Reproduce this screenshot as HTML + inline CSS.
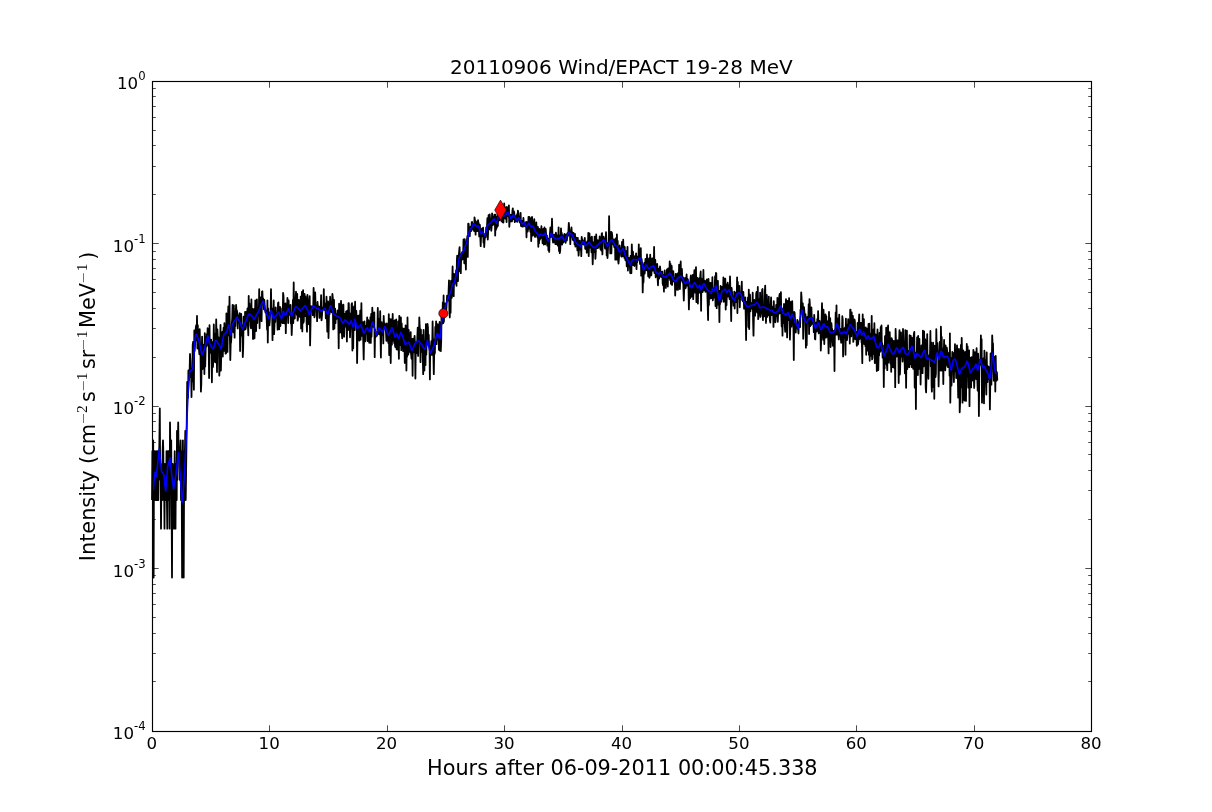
<!DOCTYPE html>
<html><head><meta charset="utf-8"><title>20110906 Wind/EPACT 19-28 MeV</title>
<style>html,body{margin:0;padding:0;background:#fff}body{width:1212px;height:812px;overflow:hidden}svg{display:block}</style>
</head><body>
<svg width="1212" height="812" viewBox="0 0 1212 812">
<rect width="1212" height="812" fill="#fff"/>
<g fill="none" stroke-linejoin="round" stroke-linecap="butt">
<path d="M152.0 500.1L152.4 451.2L152.8 500.1L153.2 440.3L153.6 577.6L154.0 451.2L154.3 451.2L154.7 479.8L155.1 451.2L155.5 500.1L155.9 500.1L156.3 500.1L156.7 451.2L157.1 500.1L157.5 451.2L157.9 464.0L158.3 500.1L158.7 451.2L159.0 464.0L159.4 440.3L159.8 408.4L160.2 479.8L160.6 464.0L161.0 528.7L161.4 479.8L161.8 500.1L162.2 500.1L162.6 451.2L163.0 440.3L163.3 451.2L163.7 500.1L164.1 479.8L164.5 528.7L164.9 464.0L165.3 500.1L165.7 479.8L166.1 500.1L166.5 451.2L166.9 500.1L167.3 528.7L167.7 451.2L168.0 500.1L168.4 451.2L168.8 451.2L169.2 451.2L169.6 528.7L170.0 422.5L170.4 451.2L170.8 479.8L171.2 440.3L171.6 500.1L172.0 577.6L172.3 479.8L172.7 464.0L173.1 479.8L173.5 500.1L173.9 528.7L174.3 500.1L174.7 451.2L175.1 479.8L175.5 528.7L175.9 464.0L176.3 464.0L176.7 500.1L177.0 430.8L177.4 479.8L177.8 451.2L178.2 422.5L178.6 451.2L179.0 451.2L179.4 451.2L179.8 479.8L180.2 451.2L180.6 440.3L181.0 500.1L181.4 451.2L181.7 479.8L182.1 577.6L182.5 464.0L182.9 440.3L183.3 500.1L183.7 577.6L184.1 479.8L184.5 451.2L184.9 451.2L185.3 430.8L185.7 500.1L186.0 479.8L186.4 448.6L186.8 417.6L187.2 382.0L187.6 394.1L188.0 397.8L188.4 370.4L188.8 380.7L189.2 375.5L189.6 372.1L190.0 354.0L190.4 361.5L190.7 377.3L191.1 369.4L191.5 397.0L191.9 368.3L192.3 381.4L192.7 345.0L193.1 341.8L193.5 374.1L193.9 389.7L194.3 330.4L194.7 351.0L195.0 345.5L195.4 336.4L195.8 327.9L196.2 325.1L196.6 340.4L197.0 316.0L197.4 348.6L197.8 325.1L198.2 344.9L198.6 336.5L199.0 349.9L199.4 354.4L199.7 329.2L200.1 346.1L200.5 351.7L200.9 391.6L201.3 384.2L201.7 351.9L202.1 336.6L202.5 369.1L202.9 352.7L203.3 350.8L203.7 353.9L204.0 344.3L204.4 374.0L204.8 333.1L205.2 366.6L205.6 351.6L206.0 336.9L206.4 346.4L206.8 334.1L207.2 344.9L207.6 328.2L208.0 328.8L208.4 343.6L208.7 347.2L209.1 378.0L209.5 325.2L209.9 352.9L210.3 346.2L210.7 345.1L211.1 339.6L211.5 347.1L211.9 382.3L212.3 342.1L212.7 351.9L213.0 366.9L213.4 355.4L213.8 324.4L214.2 348.2L214.6 361.6L215.0 334.2L215.4 362.3L215.8 348.1L216.2 319.4L216.6 339.4L217.0 372.0L217.4 329.5L217.7 336.0L218.1 349.7L218.5 337.2L218.9 346.8L219.3 375.6L219.7 364.0L220.1 352.1L220.5 324.8L220.9 370.5L221.3 352.5L221.7 354.8L222.1 334.5L222.4 331.8L222.8 356.6L223.2 335.0L223.6 327.7L224.0 350.9L224.4 323.2L224.8 340.4L225.2 328.3L225.6 353.7L226.0 353.4L226.4 313.4L226.7 332.2L227.1 329.0L227.5 351.9L227.9 320.3L228.3 306.5L228.7 332.2L229.1 335.3L229.5 296.6L229.9 338.0L230.3 360.0L230.7 343.6L231.1 342.2L231.4 336.8L231.8 323.8L232.2 319.2L232.6 304.8L233.0 331.3L233.4 332.2L233.8 305.3L234.2 316.0L234.6 337.7L235.0 313.4L235.4 326.0L235.7 314.0L236.1 304.8L236.5 311.7L236.9 310.3L237.3 313.1L237.7 328.4L238.1 315.2L238.5 321.9L238.9 322.6L239.3 322.7L239.7 313.1L240.1 351.0L240.4 329.9L240.8 322.2L241.2 313.8L241.6 335.5L242.0 333.6L242.4 325.7L242.8 357.0L243.2 347.2L243.6 316.7L244.0 317.7L244.4 329.8L244.7 329.2L245.1 311.8L245.5 329.3L245.9 327.6L246.3 321.1L246.7 311.3L247.1 320.3L247.5 308.3L247.9 325.1L248.3 335.3L248.7 296.0L249.1 320.9L249.4 303.3L249.8 312.6L250.2 316.9L250.6 326.1L251.0 328.4L251.4 299.3L251.8 323.8L252.2 308.6L252.6 317.6L253.0 339.1L253.4 309.8L253.7 318.7L254.1 308.9L254.5 338.3L254.9 322.4L255.3 300.3L255.7 321.5L256.1 331.1L256.5 313.6L256.9 299.4L257.3 323.0L257.7 314.4L258.1 307.9L258.4 315.5L258.8 314.6L259.2 289.2L259.6 328.3L260.0 301.4L260.4 297.3L260.8 312.2L261.2 310.9L261.6 321.2L262.0 291.7L262.4 291.3L262.7 300.5L263.1 298.3L263.5 299.9L263.9 309.3L264.3 300.0L264.7 305.1L265.1 310.3L265.5 312.5L265.9 310.3L266.3 313.5L266.7 320.0L267.1 329.8L267.4 300.3L267.8 342.6L268.2 308.5L268.6 317.7L269.0 317.5L269.4 325.4L269.8 320.6L270.2 312.3L270.6 312.7L271.0 289.1L271.4 313.1L271.8 312.6L272.1 308.5L272.5 340.2L272.9 321.9L273.3 319.6L273.7 300.4L274.1 334.2L274.5 324.9L274.9 312.5L275.3 321.9L275.7 307.3L276.1 314.7L276.4 315.2L276.8 313.3L277.2 314.9L277.6 329.7L278.0 303.1L278.4 302.4L278.8 316.6L279.2 329.3L279.6 308.6L280.0 306.9L280.4 326.0L280.8 308.2L281.1 318.0L281.5 322.7L281.9 318.9L282.3 314.6L282.7 323.2L283.1 292.8L283.5 295.8L283.9 315.3L284.3 323.3L284.7 314.2L285.1 308.2L285.4 303.5L285.8 333.2L286.2 315.8L286.6 311.8L287.0 312.7L287.4 298.0L287.8 309.8L288.2 323.0L288.6 300.4L289.0 313.4L289.4 313.7L289.8 314.9L290.1 308.7L290.5 305.0L290.9 323.4L291.3 317.4L291.7 335.0L292.1 323.4L292.5 317.5L292.9 299.9L293.3 323.0L293.7 282.4L294.1 312.8L294.4 314.1L294.8 318.6L295.2 299.2L295.6 299.5L296.0 291.7L296.4 303.3L296.8 314.8L297.2 294.0L297.6 320.7L298.0 318.7L298.4 302.7L298.8 299.9L299.1 312.6L299.5 310.5L299.9 316.9L300.3 310.5L300.7 296.6L301.1 328.4L301.5 306.1L301.9 291.9L302.3 331.4L302.7 302.3L303.1 290.2L303.4 322.9L303.8 321.0L304.2 302.4L304.6 294.0L305.0 316.0L305.4 296.3L305.8 303.9L306.2 297.8L306.6 322.1L307.0 331.7L307.4 294.9L307.8 300.0L308.1 316.2L308.5 322.6L308.9 324.4L309.3 312.9L309.7 296.1L310.1 345.4L310.5 324.8L310.9 306.2L311.3 309.8L311.7 307.5L312.1 306.5L312.5 307.4L312.8 315.2L313.2 309.6L313.6 288.0L314.0 303.4L314.4 317.3L314.8 315.5L315.2 292.5L315.6 307.7L316.0 305.7L316.4 305.8L316.8 311.4L317.1 321.2L317.5 301.9L317.9 307.0L318.3 309.6L318.7 306.3L319.1 306.7L319.5 317.9L319.9 308.7L320.3 316.4L320.7 310.1L321.1 295.2L321.5 320.3L321.8 318.0L322.2 312.6L322.6 307.5L323.0 308.7L323.4 309.1L323.8 289.1L324.2 308.5L324.6 309.5L325.0 310.3L325.4 303.6L325.8 318.3L326.1 310.3L326.5 296.7L326.9 316.3L327.3 331.7L327.7 321.2L328.1 301.5L328.5 338.0L328.9 318.5L329.3 302.6L329.7 313.9L330.1 296.7L330.5 310.5L330.8 307.6L331.2 304.2L331.6 312.3L332.0 302.5L332.4 293.9L332.8 297.9L333.2 329.4L333.6 319.6L334.0 299.8L334.4 328.7L334.8 309.6L335.1 308.5L335.5 323.2L335.9 314.0L336.3 319.2L336.7 316.4L337.1 318.3L337.5 310.3L337.9 311.8L338.3 320.6L338.7 348.3L339.1 303.7L339.5 305.1L339.8 322.7L340.2 332.5L340.6 325.4L341.0 300.8L341.4 314.3L341.8 332.3L342.2 338.3L342.6 322.3L343.0 304.7L343.4 304.7L343.8 325.7L344.1 336.7L344.5 319.1L344.9 313.8L345.3 316.2L345.7 326.5L346.1 311.4L346.5 322.8L346.9 341.6L347.3 310.7L347.7 324.1L348.1 330.1L348.5 303.2L348.8 303.2L349.2 318.2L349.6 313.2L350.0 337.3L350.4 327.8L350.8 316.8L351.2 324.0L351.6 304.3L352.0 303.2L352.4 350.5L352.8 307.0L353.2 348.2L353.5 324.5L353.9 320.6L354.3 306.1L354.7 330.1L355.1 301.7L355.5 322.3L355.9 322.8L356.3 311.0L356.7 322.1L357.1 363.1L357.5 338.3L357.8 316.0L358.2 340.1L358.6 319.1L359.0 315.3L359.4 340.6L359.8 333.0L360.2 310.6L360.6 339.7L361.0 325.8L361.4 303.2L361.8 334.1L362.2 335.9L362.5 332.1L362.9 322.2L363.3 344.2L363.7 359.4L364.1 335.7L364.5 321.4L364.9 330.9L365.3 341.4L365.7 329.0L366.1 325.6L366.5 333.5L366.8 326.9L367.2 317.4L367.6 341.0L368.0 329.9L368.4 320.1L368.8 323.0L369.2 342.8L369.6 338.9L370.0 341.3L370.4 317.2L370.8 342.9L371.2 313.9L371.5 336.8L371.9 326.0L372.3 307.6L372.7 317.5L373.1 322.2L373.5 326.8L373.9 324.5L374.3 312.4L374.7 357.2L375.1 329.6L375.5 337.3L375.8 333.9L376.2 332.6L376.6 333.5L377.0 335.8L377.4 330.3L377.8 308.0L378.2 334.0L378.6 322.1L379.0 319.3L379.4 333.0L379.8 334.6L380.2 311.2L380.5 335.4L380.9 357.6L381.3 322.5L381.7 322.1L382.1 334.9L382.5 324.7L382.9 327.8L383.3 343.4L383.7 316.0L384.1 327.3L384.5 328.2L384.8 323.3L385.2 326.1L385.6 329.7L386.0 332.2L386.4 340.8L386.8 323.3L387.2 338.9L387.6 329.9L388.0 340.4L388.4 343.0L388.8 314.2L389.2 355.0L389.5 339.4L389.9 318.8L390.3 336.5L390.7 363.1L391.1 338.3L391.5 319.5L391.9 344.7L392.3 330.2L392.7 314.0L393.1 340.7L393.5 325.6L393.8 332.7L394.2 343.0L394.6 320.3L395.0 345.6L395.4 347.2L395.8 337.1L396.2 319.3L396.6 349.4L397.0 328.1L397.4 339.2L397.8 349.7L398.2 321.3L398.5 340.3L398.9 358.8L399.3 315.8L399.7 333.8L400.1 345.1L400.5 343.6L400.9 317.5L401.3 350.2L401.7 323.4L402.1 343.6L402.5 328.2L402.9 340.1L403.2 351.2L403.6 335.2L404.0 328.6L404.4 340.8L404.8 362.9L405.2 354.0L405.6 325.3L406.0 335.4L406.4 370.5L406.8 339.5L407.2 356.5L407.5 317.5L407.9 347.0L408.3 354.5L408.7 329.8L409.1 339.6L409.5 351.2L409.9 350.2L410.3 352.6L410.7 332.1L411.1 353.8L411.5 358.8L411.9 339.2L412.2 344.5L412.6 375.8L413.0 338.7L413.4 351.6L413.8 352.3L414.2 341.4L414.6 335.9L415.0 343.8L415.4 378.6L415.8 347.0L416.2 342.5L416.5 349.3L416.9 353.1L417.3 337.8L417.7 327.7L418.1 355.9L418.5 333.5L418.9 339.7L419.3 317.3L419.7 326.3L420.1 337.9L420.5 362.2L420.9 329.7L421.2 351.8L421.6 344.3L422.0 341.1L422.4 335.1L422.8 358.3L423.2 374.2L423.6 329.9L424.0 344.2L424.4 370.5L424.8 343.9L425.2 358.8L425.5 365.1L425.9 324.1L426.3 354.7L426.7 342.4L427.1 344.0L427.5 323.9L427.9 327.0L428.3 344.8L428.7 334.7L429.1 345.8L429.5 345.8L429.9 379.4L430.2 346.5L430.6 350.3L431.0 347.0L431.4 341.1L431.8 354.9L432.2 347.3L432.6 321.5L433.0 343.2L433.4 354.4L433.8 374.2L434.2 353.1L434.5 339.3L434.9 353.4L435.3 326.8L435.7 334.1L436.1 321.5L436.5 344.2L436.9 330.4L437.3 329.0L437.7 324.1L438.1 339.7L438.5 331.6L438.9 349.8L439.2 335.0L439.6 322.0L440.0 350.7L440.4 347.7L440.8 351.2L441.2 341.0L441.6 310.3L442.0 323.8L442.4 321.2L442.8 302.4L443.2 323.2L443.6 295.5L443.9 321.8L444.3 303.3L444.7 315.2L445.1 303.5L445.5 304.1L445.9 306.4L446.3 310.1L446.7 303.8L447.1 295.6L447.5 298.2L447.9 299.5L448.2 300.6L448.6 291.1L449.0 280.3L449.4 310.9L449.8 317.4L450.2 286.7L450.6 312.7L451.0 280.8L451.4 284.4L451.8 297.8L452.2 280.4L452.6 266.5L452.9 284.1L453.3 289.9L453.7 296.2L454.1 273.8L454.5 284.0L454.9 279.2L455.3 280.5L455.7 279.0L456.1 270.2L456.5 285.8L456.9 260.6L457.2 255.6L457.6 270.9L458.0 281.1L458.4 263.6L458.8 255.9L459.2 250.9L459.6 247.2L460.0 271.3L460.4 254.9L460.8 273.2L461.2 254.1L461.6 260.2L461.9 252.9L462.3 252.0L462.7 252.1L463.1 259.2L463.5 239.4L463.9 248.0L464.3 263.3L464.7 239.2L465.1 242.2L465.5 257.0L465.9 269.5L466.2 246.5L466.6 244.2L467.0 239.3L467.4 236.0L467.8 256.9L468.2 223.6L468.6 223.6L469.0 228.1L469.4 235.3L469.8 236.2L470.2 227.2L470.6 231.1L470.9 226.3L471.3 231.0L471.7 222.1L472.1 222.0L472.5 226.0L472.9 228.4L473.3 229.8L473.7 223.9L474.1 231.0L474.5 217.3L474.9 219.9L475.2 223.2L475.6 234.6L476.0 221.4L476.4 231.3L476.8 223.6L477.2 230.2L477.6 231.0L478.0 220.2L478.4 222.6L478.8 223.6L479.2 236.4L479.6 228.7L479.9 224.9L480.3 237.2L480.7 246.2L481.1 234.6L481.5 233.3L481.9 228.6L482.3 236.3L482.7 229.8L483.1 227.6L483.5 242.7L483.9 234.9L484.2 247.0L484.6 240.1L485.0 237.0L485.4 233.9L485.8 237.1L486.2 227.3L486.6 229.8L487.0 226.1L487.4 218.1L487.8 239.5L488.2 230.1L488.6 215.1L488.9 229.0L489.3 229.4L489.7 214.3L490.1 219.4L490.5 220.2L490.9 218.9L491.3 230.8L491.7 226.0L492.1 213.4L492.5 218.3L492.9 225.0L493.3 217.3L493.6 219.8L494.0 224.3L494.4 214.7L494.8 216.5L495.2 235.5L495.6 214.6L496.0 229.7L496.4 219.8L496.8 227.7L497.2 216.6L497.6 222.5L497.9 226.0L498.3 209.9L498.7 211.1L499.1 218.6L499.5 220.3L499.9 218.5L500.3 213.8L500.7 208.6L501.1 214.2L501.5 221.3L501.9 211.6L502.3 206.3L502.6 222.2L503.0 214.9L503.4 222.6L503.8 215.1L504.2 203.5L504.6 212.7L505.0 216.2L505.4 218.5L505.8 207.5L506.2 217.2L506.6 222.1L506.9 206.9L507.3 209.8L507.7 213.6L508.1 213.4L508.5 216.6L508.9 205.4L509.3 226.8L509.7 220.7L510.1 215.3L510.5 214.6L510.9 221.3L511.3 218.3L511.6 218.8L512.0 221.4L512.4 210.9L512.8 208.4L513.2 219.0L513.6 219.3L514.0 211.5L514.4 213.9L514.8 222.2L515.2 216.1L515.6 216.2L515.9 218.3L516.3 221.0L516.7 221.5L517.1 214.2L517.5 221.8L517.9 210.6L518.3 212.7L518.7 218.5L519.1 219.6L519.5 220.1L519.9 222.7L520.3 218.0L520.6 212.8L521.0 225.9L521.4 224.7L521.8 226.2L522.2 226.5L522.6 220.7L523.0 226.6L523.4 217.9L523.8 222.5L524.2 223.0L524.6 225.4L524.9 226.3L525.3 223.9L525.7 223.9L526.1 222.0L526.5 237.3L526.9 222.1L527.3 223.0L527.7 231.6L528.1 228.6L528.5 216.8L528.9 222.6L529.3 216.8L529.6 228.5L530.0 228.6L530.4 231.9L530.8 218.2L531.2 241.0L531.6 228.9L532.0 216.9L532.4 221.1L532.8 235.7L533.2 230.2L533.6 221.8L534.0 227.9L534.3 219.2L534.7 235.9L535.1 237.0L535.5 233.7L535.9 233.8L536.3 222.3L536.7 233.3L537.1 236.0L537.5 237.4L537.9 226.8L538.3 246.8L538.6 228.8L539.0 243.3L539.4 228.8L539.8 239.7L540.2 237.9L540.6 238.4L541.0 233.7L541.4 226.2L541.8 233.7L542.2 233.9L542.6 243.2L543.0 235.7L543.3 228.8L543.7 244.5L544.1 232.2L544.5 227.5L544.9 232.4L545.3 244.3L545.7 228.9L546.1 234.3L546.5 239.0L546.9 235.3L547.3 245.6L547.6 241.6L548.0 238.7L548.4 250.3L548.8 239.3L549.2 251.9L549.6 238.6L550.0 232.9L550.4 227.5L550.8 237.0L551.2 234.3L551.6 232.8L552.0 218.7L552.3 230.4L552.7 239.6L553.1 242.7L553.5 235.1L553.9 237.8L554.3 234.7L554.7 242.4L555.1 237.1L555.5 244.1L555.9 232.7L556.3 236.2L556.6 244.0L557.0 238.3L557.4 235.3L557.8 245.7L558.2 241.3L558.6 227.3L559.0 250.9L559.4 235.3L559.8 253.2L560.2 250.5L560.6 241.5L561.0 228.4L561.3 236.4L561.7 232.9L562.1 244.5L562.5 234.8L562.9 238.2L563.3 242.6L563.7 240.5L564.1 240.6L564.5 233.8L564.9 237.3L565.3 241.6L565.6 242.9L566.0 234.9L566.4 234.4L566.8 240.7L567.2 237.9L567.6 232.9L568.0 236.0L568.4 231.2L568.8 222.8L569.2 227.6L569.6 232.4L570.0 235.0L570.3 244.1L570.7 233.1L571.1 233.4L571.5 227.5L571.9 236.6L572.3 232.2L572.7 239.2L573.1 240.1L573.5 232.8L573.9 240.6L574.3 237.7L574.6 244.4L575.0 234.0L575.4 246.5L575.8 243.7L576.2 243.7L576.6 237.7L577.0 243.7L577.4 250.4L577.8 237.9L578.2 245.2L578.6 255.7L579.0 249.1L579.3 241.9L579.7 240.6L580.1 249.6L580.5 247.3L580.9 245.7L581.3 256.2L581.7 236.8L582.1 239.8L582.5 241.3L582.9 240.6L583.3 244.5L583.7 244.1L584.0 243.8L584.4 240.4L584.8 238.0L585.2 248.7L585.6 242.5L586.0 249.1L586.4 243.5L586.8 252.6L587.2 241.5L587.6 244.1L588.0 244.7L588.3 232.8L588.7 256.1L589.1 243.5L589.5 233.3L589.9 247.7L590.3 247.7L590.7 237.6L591.1 245.6L591.5 252.3L591.9 236.7L592.3 250.1L592.7 264.3L593.0 255.9L593.4 242.4L593.8 250.7L594.2 252.2L594.6 236.6L595.0 244.5L595.4 258.8L595.8 251.8L596.2 234.5L596.6 247.5L597.0 248.1L597.3 247.5L597.7 240.1L598.1 248.0L598.5 245.1L598.9 243.1L599.3 243.0L599.7 236.3L600.1 247.6L600.5 249.3L600.9 237.7L601.3 250.5L601.7 233.7L602.0 233.1L602.4 254.4L602.8 237.1L603.2 237.7L603.6 236.7L604.0 239.8L604.4 238.6L604.8 246.7L605.2 248.7L605.6 244.3L606.0 232.2L606.3 241.1L606.7 255.4L607.1 242.9L607.5 258.0L607.9 250.4L608.3 243.3L608.7 243.2L609.1 216.1L609.5 240.2L609.9 239.8L610.3 253.4L610.7 233.4L611.0 231.9L611.4 253.3L611.8 232.4L612.2 235.3L612.6 243.4L613.0 242.0L613.4 244.7L613.8 239.4L614.2 247.0L614.6 243.8L615.0 239.6L615.3 259.7L615.7 238.3L616.1 241.8L616.5 259.5L616.9 234.3L617.3 249.2L617.7 241.0L618.1 260.0L618.5 263.6L618.9 258.7L619.3 253.5L619.7 245.5L620.0 248.4L620.4 253.1L620.8 248.6L621.2 256.1L621.6 256.5L622.0 241.9L622.4 252.3L622.8 256.3L623.2 239.7L623.6 253.2L624.0 246.5L624.4 257.9L624.7 246.8L625.1 257.8L625.5 260.4L625.9 254.7L626.3 251.2L626.7 266.3L627.1 263.2L627.5 246.8L627.9 270.5L628.3 260.6L628.7 264.0L629.0 257.9L629.4 264.7L629.8 263.9L630.2 273.0L630.6 255.9L631.0 273.3L631.4 273.1L631.8 244.3L632.2 256.0L632.6 264.9L633.0 251.7L633.4 265.2L633.7 255.9L634.1 265.1L634.5 266.0L634.9 259.0L635.3 256.1L635.7 258.3L636.1 253.3L636.5 269.1L636.9 258.2L637.3 262.3L637.7 256.5L638.0 258.4L638.4 259.9L638.8 244.3L639.2 259.7L639.6 249.7L640.0 263.9L640.4 254.7L640.8 248.1L641.2 275.7L641.6 258.8L642.0 263.1L642.4 266.7L642.7 292.4L643.1 275.1L643.5 282.4L643.9 264.7L644.3 262.9L644.7 273.6L645.1 267.3L645.5 258.9L645.9 270.2L646.3 266.8L646.7 270.3L647.0 254.5L647.4 268.2L647.8 267.9L648.2 276.3L648.6 269.8L649.0 258.4L649.4 277.8L649.8 276.4L650.2 254.7L650.6 269.2L651.0 271.0L651.4 275.3L651.7 267.6L652.1 258.4L652.5 266.2L652.9 270.6L653.3 258.2L653.7 270.7L654.1 246.9L654.5 273.0L654.9 270.4L655.3 259.9L655.7 277.3L656.0 273.0L656.4 273.5L656.8 275.4L657.2 263.9L657.6 278.2L658.0 285.3L658.4 268.7L658.8 275.1L659.2 278.6L659.6 270.7L660.0 266.5L660.4 270.4L660.7 276.6L661.1 271.7L661.5 277.0L661.9 272.4L662.3 271.6L662.7 283.6L663.1 285.2L663.5 274.9L663.9 291.6L664.3 279.7L664.7 270.5L665.1 285.6L665.4 279.3L665.8 287.9L666.2 278.1L666.6 274.4L667.0 269.4L667.4 270.9L667.8 286.6L668.2 268.3L668.6 278.2L669.0 274.5L669.4 272.4L669.7 261.4L670.1 280.1L670.5 263.8L670.9 283.8L671.3 279.7L671.7 266.0L672.1 285.0L672.5 281.0L672.9 281.6L673.3 271.1L673.7 281.4L674.1 277.7L674.4 280.9L674.8 278.3L675.2 295.6L675.6 273.9L676.0 284.3L676.4 277.9L676.8 289.6L677.2 274.3L677.6 273.4L678.0 289.8L678.4 274.0L678.7 285.6L679.1 264.7L679.5 269.7L679.9 289.0L680.3 277.0L680.7 261.4L681.1 280.6L681.5 278.2L681.9 269.0L682.3 278.7L682.7 282.7L683.1 277.5L683.4 288.2L683.8 300.5L684.2 287.4L684.6 285.9L685.0 278.0L685.4 288.3L685.8 287.5L686.2 280.5L686.6 274.5L687.0 284.5L687.4 285.6L687.7 279.1L688.1 280.2L688.5 289.0L688.9 309.4L689.3 291.0L689.7 288.3L690.1 298.3L690.5 278.9L690.9 275.4L691.3 296.9L691.7 293.3L692.1 281.7L692.4 287.6L692.8 274.8L693.2 299.2L693.6 288.8L694.0 277.9L694.4 270.2L694.8 286.0L695.2 292.6L695.6 280.4L696.0 267.2L696.4 302.0L696.7 283.6L697.1 277.7L697.5 289.6L697.9 303.5L698.3 278.8L698.7 288.3L699.1 278.2L699.5 292.5L699.9 290.9L700.3 275.0L700.7 271.5L701.1 310.8L701.4 278.4L701.8 288.9L702.2 289.6L702.6 292.2L703.0 288.5L703.4 270.0L703.8 290.4L704.2 284.6L704.6 286.5L705.0 280.7L705.4 291.8L705.7 289.8L706.1 285.2L706.5 291.6L706.9 279.3L707.3 292.1L707.7 305.8L708.1 320.0L708.5 278.8L708.9 305.1L709.3 282.5L709.7 295.0L710.1 298.6L710.4 297.4L710.8 282.8L711.2 291.8L711.6 298.1L712.0 290.4L712.4 277.2L712.8 300.4L713.2 296.9L713.6 292.1L714.0 288.1L714.4 297.7L714.8 284.4L715.1 276.1L715.5 306.1L715.9 272.9L716.3 273.3L716.7 308.2L717.1 299.2L717.5 285.3L717.9 280.8L718.3 302.7L718.7 305.1L719.1 301.8L719.4 322.0L719.8 290.6L720.2 303.9L720.6 286.0L721.0 294.4L721.4 301.7L721.8 287.0L722.2 298.8L722.6 290.1L723.0 296.3L723.4 277.3L723.8 301.8L724.1 292.9L724.5 279.1L724.9 288.2L725.3 278.7L725.7 309.6L726.1 284.5L726.5 305.3L726.9 292.4L727.3 285.6L727.7 282.7L728.1 292.6L728.4 296.6L728.8 285.4L729.2 292.4L729.6 299.2L730.0 276.4L730.4 290.6L730.8 302.1L731.2 321.0L731.6 287.8L732.0 291.9L732.4 298.2L732.8 298.0L733.1 298.9L733.5 305.7L733.9 302.5L734.3 291.6L734.7 308.5L735.1 292.4L735.5 295.6L735.9 302.1L736.3 297.2L736.7 299.3L737.1 277.3L737.4 313.1L737.8 281.9L738.2 292.1L738.6 298.6L739.0 288.0L739.4 285.9L739.8 307.3L740.2 293.7L740.6 295.3L741.0 292.9L741.4 292.9L741.8 281.6L742.1 300.1L742.5 298.4L742.9 301.4L743.3 291.8L743.7 297.7L744.1 308.6L744.5 305.5L744.9 307.1L745.3 297.3L745.7 314.8L746.1 340.1L746.4 309.7L746.8 301.9L747.2 311.1L747.6 306.0L748.0 297.3L748.4 327.1L748.8 289.7L749.2 329.1L749.6 300.3L750.0 294.7L750.4 311.3L750.8 307.1L751.1 304.3L751.5 303.1L751.9 308.5L752.3 307.7L752.7 292.7L753.1 321.0L753.5 335.7L753.9 316.3L754.3 299.8L754.7 301.9L755.1 315.7L755.5 305.3L755.8 311.5L756.2 293.7L756.6 291.9L757.0 305.3L757.4 312.6L757.8 286.9L758.2 319.2L758.6 314.9L759.0 299.6L759.4 302.3L759.8 314.6L760.1 292.6L760.5 316.9L760.9 314.3L761.3 312.4L761.7 310.1L762.1 289.9L762.5 289.0L762.9 320.1L763.3 311.1L763.7 306.2L764.1 316.3L764.5 304.6L764.8 292.3L765.2 285.6L765.6 310.2L766.0 322.9L766.4 301.2L766.8 295.0L767.2 316.9L767.6 310.5L768.0 315.4L768.4 313.9L768.8 296.6L769.1 314.1L769.5 304.7L769.9 320.3L770.3 322.7L770.7 306.2L771.1 297.4L771.5 315.2L771.9 313.7L772.3 308.5L772.7 306.7L773.1 309.4L773.5 326.9L773.8 301.2L774.2 317.5L774.6 308.6L775.0 315.2L775.4 322.3L775.8 315.6L776.2 304.8L776.6 312.9L777.0 315.9L777.4 297.9L777.8 321.8L778.1 314.1L778.5 314.6L778.9 305.5L779.3 296.0L779.7 293.9L780.1 313.2L780.5 306.3L780.9 292.1L781.3 315.2L781.7 326.4L782.1 309.7L782.5 335.7L782.8 308.9L783.2 319.0L783.6 323.1L784.0 303.9L784.4 307.8L784.8 326.3L785.2 331.8L785.6 308.7L786.0 299.1L786.4 315.6L786.8 315.7L787.1 337.4L787.5 301.0L787.9 307.2L788.3 320.0L788.7 312.6L789.1 298.1L789.5 320.5L789.9 339.6L790.3 327.3L790.7 301.9L791.1 317.2L791.5 326.7L791.8 311.7L792.2 301.1L792.6 318.0L793.0 323.9L793.4 323.9L793.8 360.1L794.2 311.8L794.6 312.6L795.0 319.0L795.4 330.3L795.8 332.5L796.1 323.9L796.5 327.9L796.9 325.7L797.3 319.9L797.7 324.6L798.1 329.9L798.5 333.5L798.9 322.9L799.3 322.5L799.7 320.5L800.1 327.0L800.5 309.7L800.8 312.1L801.2 292.4L801.6 298.0L802.0 313.3L802.4 309.0L802.8 303.4L803.2 338.8L803.6 325.8L804.0 307.1L804.4 311.7L804.8 319.4L805.2 315.3L805.5 314.3L805.9 347.7L806.3 321.9L806.7 345.3L807.1 317.4L807.5 316.9L807.9 322.8L808.3 320.7L808.7 304.1L809.1 334.0L809.5 299.1L809.8 303.5L810.2 326.1L810.6 318.3L811.0 325.0L811.4 307.5L811.8 320.9L812.2 317.9L812.6 323.8L813.0 321.3L813.4 321.4L813.8 332.2L814.2 314.8L814.5 320.8L814.9 339.1L815.3 339.4L815.7 326.6L816.1 322.7L816.5 323.9L816.9 331.5L817.3 319.0L817.7 329.2L818.1 311.1L818.5 324.1L818.8 333.4L819.2 329.6L819.6 320.8L820.0 323.4L820.4 323.9L820.8 350.5L821.2 340.7L821.6 319.5L822.0 303.2L822.4 324.6L822.8 328.1L823.2 339.8L823.5 309.7L823.9 319.8L824.3 344.1L824.7 315.5L825.1 331.8L825.5 314.3L825.9 337.7L826.3 316.1L826.7 336.8L827.1 321.1L827.5 336.0L827.8 321.5L828.2 337.4L828.6 353.4L829.0 311.8L829.4 340.1L829.8 341.5L830.2 318.1L830.6 347.0L831.0 340.8L831.4 323.2L831.8 327.9L832.2 329.7L832.5 330.3L832.9 345.8L833.3 331.0L833.7 340.9L834.1 337.1L834.5 371.0L834.9 330.2L835.3 331.2L835.7 312.5L836.1 334.6L836.5 305.3L836.8 334.6L837.2 324.5L837.6 328.2L838.0 318.4L838.4 333.1L838.8 339.4L839.2 314.6L839.6 333.9L840.0 331.7L840.4 328.8L840.8 338.4L841.2 342.8L841.5 335.1L841.9 342.0L842.3 316.2L842.7 319.3L843.1 356.4L843.5 328.4L843.9 337.8L844.3 330.1L844.7 330.3L845.1 327.5L845.5 354.8L845.9 318.6L846.2 334.6L846.6 324.7L847.0 340.2L847.4 335.3L847.8 332.8L848.2 319.2L848.6 333.6L849.0 326.7L849.4 326.1L849.8 343.6L850.2 309.8L850.5 309.6L850.9 330.4L851.3 336.3L851.7 312.4L852.1 330.1L852.5 325.9L852.9 315.8L853.3 341.9L853.7 337.5L854.1 335.7L854.5 319.5L854.9 321.5L855.2 339.0L855.6 331.8L856.0 331.8L856.4 335.8L856.8 345.8L857.2 343.5L857.6 322.9L858.0 344.5L858.4 341.2L858.8 322.6L859.2 314.3L859.5 339.0L859.9 338.4L860.3 332.6L860.7 322.9L861.1 322.8L861.5 342.0L861.9 343.6L862.3 363.2L862.7 314.3L863.1 341.8L863.5 335.2L863.9 319.1L864.2 344.1L864.6 331.4L865.0 332.7L865.4 346.1L865.8 327.3L866.2 354.8L866.6 335.5L867.0 329.9L867.4 328.8L867.8 350.6L868.2 334.9L868.5 324.0L868.9 354.8L869.3 323.6L869.7 360.8L870.1 338.4L870.5 333.9L870.9 340.2L871.3 355.9L871.7 315.8L872.1 359.4L872.5 357.5L872.9 333.6L873.2 330.1L873.6 329.3L874.0 354.0L874.4 323.2L874.8 363.1L875.2 348.9L875.6 334.5L876.0 340.1L876.4 349.3L876.8 371.0L877.2 338.6L877.5 329.5L877.9 351.2L878.3 370.0L878.7 351.8L879.1 355.6L879.5 332.9L879.9 352.1L880.3 350.4L880.7 327.0L881.1 343.7L881.5 325.4L881.9 351.0L882.2 343.2L882.6 357.6L883.0 353.2L883.4 349.1L883.8 387.0L884.2 345.3L884.6 368.5L885.0 336.2L885.4 363.9L885.8 361.1L886.2 327.7L886.6 357.3L886.9 364.6L887.3 370.2L887.7 329.5L888.1 325.4L888.5 362.5L888.9 350.5L889.3 352.8L889.7 332.1L890.1 343.3L890.5 363.8L890.9 353.8L891.2 371.8L891.6 338.2L892.0 339.3L892.4 354.3L892.8 367.1L893.2 355.3L893.6 340.8L894.0 363.2L894.4 368.1L894.8 341.0L895.2 387.2L895.6 329.0L895.9 339.2L896.3 348.5L896.7 356.6L897.1 340.3L897.5 347.7L897.9 340.3L898.3 349.3L898.7 383.0L899.1 341.3L899.5 330.1L899.9 374.5L900.2 367.1L900.6 349.8L901.0 332.3L901.4 356.7L901.8 345.9L902.2 339.2L902.6 361.5L903.0 329.0L903.4 342.1L903.8 346.6L904.2 348.5L904.6 361.4L904.9 373.3L905.3 330.1L905.7 344.5L906.1 387.8L906.5 348.0L906.9 330.7L907.3 369.0L907.7 359.3L908.1 358.4L908.5 350.9L908.9 353.5L909.2 367.2L909.6 335.2L910.0 364.0L910.4 338.2L910.8 336.0L911.2 355.7L911.6 367.0L912.0 337.9L912.4 343.0L912.8 351.0L913.2 368.8L913.6 337.3L913.9 333.8L914.3 331.9L914.7 387.6L915.1 387.6L915.5 352.6L915.9 409.0L916.3 361.4L916.7 356.3L917.1 337.5L917.5 365.4L917.9 375.0L918.2 335.9L918.6 369.0L919.0 352.8L919.4 338.9L919.8 363.0L920.2 361.0L920.6 384.6L921.0 362.8L921.4 345.4L921.8 361.8L922.2 355.0L922.6 373.2L922.9 330.6L923.3 351.7L923.7 366.4L924.1 331.3L924.5 352.0L924.9 341.4L925.3 339.4L925.7 387.5L926.1 392.4L926.5 375.9L926.9 362.2L927.2 334.1L927.6 362.2L928.0 363.0L928.4 378.8L928.8 356.0L929.2 357.0L929.6 354.6L930.0 354.3L930.4 330.9L930.8 366.3L931.2 342.5L931.6 386.2L931.9 391.6L932.3 348.9L932.7 387.2L933.1 342.6L933.5 378.5L933.9 349.0L934.3 398.8L934.7 345.6L935.1 346.8L935.5 377.1L935.9 373.3L936.3 329.2L936.6 343.4L937.0 355.1L937.4 342.9L937.8 353.5L938.2 354.4L938.6 386.4L939.0 367.3L939.4 357.8L939.8 341.9L940.2 345.6L940.6 370.6L940.9 326.6L941.3 343.4L941.7 336.9L942.1 370.7L942.5 348.5L942.9 350.2L943.3 384.0L943.7 356.2L944.1 340.0L944.5 358.8L944.9 363.8L945.3 370.3L945.6 345.4L946.0 365.9L946.4 355.7L946.8 347.6L947.2 351.4L947.6 358.7L948.0 367.1L948.4 364.5L948.8 353.8L949.2 352.6L949.6 375.8L949.9 333.3L950.3 402.7L950.7 371.4L951.1 358.1L951.5 385.5L951.9 374.0L952.3 351.9L952.7 367.1L953.1 358.8L953.5 353.1L953.9 382.1L954.3 358.0L954.6 359.0L955.0 344.2L955.4 371.3L955.8 352.3L956.2 378.0L956.6 369.9L957.0 345.4L957.4 358.7L957.8 374.9L958.2 397.5L958.6 363.1L958.9 348.9L959.3 360.0L959.7 412.3L960.1 402.7L960.5 367.8L960.9 344.8L961.3 387.4L961.7 337.8L962.1 354.2L962.5 402.7L962.9 379.8L963.3 350.4L963.6 356.3L964.0 381.9L964.4 400.6L964.8 367.2L965.2 351.9L965.6 353.7L966.0 400.9L966.4 369.2L966.8 343.9L967.2 365.5L967.6 346.3L967.9 362.8L968.3 387.7L968.7 359.7L969.1 350.5L969.5 406.2L969.9 357.7L970.3 379.7L970.7 371.6L971.1 387.4L971.5 357.2L971.9 368.4L972.3 380.7L972.6 377.2L973.0 361.0L973.4 350.0L973.8 376.7L974.2 387.9L974.6 374.5L975.0 352.1L975.4 356.3L975.8 367.2L976.2 379.0L976.6 348.2L977.0 373.9L977.3 378.9L977.7 390.6L978.1 353.7L978.5 363.3L978.9 416.0L979.3 370.3L979.7 362.3L980.1 359.7L980.5 360.0L980.9 335.5L981.3 364.9L981.6 339.1L982.0 402.7L982.4 373.9L982.8 374.6L983.2 358.3L983.6 360.9L984.0 403.3L984.4 350.7L984.8 364.9L985.2 359.9L985.6 370.9L986.0 384.5L986.3 394.5L986.7 352.5L987.1 377.3L987.5 382.2L987.9 366.2L988.3 375.2L988.7 366.8L989.1 379.0L989.5 371.1L989.9 409.4L990.3 381.5L990.6 353.4L991.0 359.8L991.4 384.7L991.8 364.3L992.2 335.5L992.6 344.2L993.0 343.5L993.4 363.8L993.8 380.7L994.2 356.9L994.6 359.4L995.0 368.2L995.3 391.6L995.7 356.0L996.1 376.8L996.5 380.8L996.9 372.2L997.3 380.5" stroke="#000" stroke-width="1.8"/>
<path d="M153.2 491.0L153.8 484.2L154.4 477.4L155.0 472.2L155.6 474.4L156.2 476.6L156.8 472.2L157.4 466.4L158.0 460.6L158.6 454.8L159.2 449.0L159.8 454.7L160.4 460.4L161.0 466.1L161.6 471.8L162.2 472.4L162.8 473.0L163.4 473.6L164.0 475.9L164.6 481.7L165.2 487.4L165.8 490.9L166.4 482.9L167.0 475.0L167.6 467.0L168.2 464.7L168.8 462.5L169.4 460.2L170.0 457.9L170.6 463.8L171.2 469.7L171.8 475.6L172.4 480.3L173.0 484.7L173.6 489.1L174.2 485.4L174.8 481.7L175.4 477.9L176.0 474.2L176.6 468.8L177.2 463.4L177.8 458.0L178.4 452.6L179.0 460.2L179.6 467.8L180.2 475.3L180.8 484.2L181.4 493.3L182.0 502.4L182.6 499.7L183.2 491.2L183.8 482.7L184.4 474.2L185.0 463.2L185.6 452.2L186.2 439.4L186.8 424.9L187.4 409.0L188.0 395.7L188.6 387.2L189.2 378.4L189.8 371.5L190.4 370.8L191.0 370.5L191.6 370.1L192.2 369.3L192.8 369.2L193.4 363.2L194.0 354.1L194.6 344.7L195.2 338.2L195.8 334.7L196.4 334.3L197.0 335.5L197.6 337.3L198.2 338.7L198.8 340.6L199.4 342.7L200.0 345.3L200.6 348.4L201.2 351.3L201.8 354.4L202.4 354.9L203.0 352.9L203.6 350.9L204.2 350.3L204.8 348.1L205.4 345.2L206.0 342.6L206.6 340.3L207.2 338.1L207.8 335.7L208.4 338.2L209.0 341.1L209.6 343.6L210.2 344.4L210.8 345.9L211.4 346.6L212.0 348.1L212.6 348.2L213.2 348.9L213.8 346.9L214.4 345.3L215.0 342.7L215.6 340.4L216.2 340.9L216.8 341.1L217.4 342.2L218.0 343.1L218.6 344.2L219.2 345.0L219.8 345.9L220.4 347.5L221.0 348.6L221.6 346.8L222.2 343.2L222.8 339.6L223.4 336.3L224.0 334.2L224.6 333.8L225.2 333.2L225.8 332.6L226.4 332.0L227.0 330.8L227.6 328.3L228.2 325.7L228.8 325.1L229.4 328.4L230.0 331.2L230.6 334.8L231.2 332.7L231.8 326.9L232.4 323.8L233.0 323.5L233.6 322.4L234.2 321.3L234.8 320.4L235.4 319.5L236.0 318.8L236.6 317.7L237.2 317.0L237.8 318.5L238.4 319.8L239.0 320.5L239.6 321.5L240.2 322.8L240.8 324.9L241.4 326.4L242.0 327.6L242.6 328.8L243.2 327.7L243.8 326.2L244.4 324.5L245.0 322.8L245.6 321.6L246.2 320.2L246.8 319.0L247.4 317.1L248.0 315.6L248.6 314.5L249.2 313.9L249.8 314.4L250.4 314.9L251.0 315.5L251.6 316.0L252.2 316.5L252.8 317.5L253.4 318.7L254.0 319.4L254.6 319.1L255.2 317.8L255.8 316.4L256.4 315.0L257.0 313.9L257.6 312.9L258.2 312.1L258.8 311.1L259.4 309.1L260.0 307.7L260.6 306.0L261.2 305.2L261.8 303.6L262.4 302.5L263.0 301.0L263.6 302.1L264.2 305.1L264.8 308.3L265.4 310.9L266.0 312.4L266.6 313.9L267.2 315.2L267.8 316.3L268.4 317.9L269.0 318.7L269.6 316.2L270.2 313.2L270.8 311.0L271.4 310.7L272.0 313.3L272.6 315.5L273.2 318.1L273.8 318.6L274.4 317.5L275.0 316.5L275.6 316.2L276.2 315.4L276.8 314.7L277.4 313.5L278.0 313.0L278.6 312.0L279.2 313.3L279.8 315.0L280.4 316.6L281.0 317.8L281.6 318.7L282.2 316.0L282.8 314.0L283.4 311.3L284.0 312.9L284.6 313.8L285.2 315.0L285.8 314.9L286.4 313.5L287.0 311.8L287.6 310.7L288.2 308.8L288.8 310.3L289.4 311.3L290.0 312.8L290.6 313.8L291.2 315.1L291.8 316.1L292.4 314.7L293.0 313.1L293.6 311.4L294.2 310.3L294.8 308.4L295.4 307.1L296.0 306.6L296.6 307.2L297.2 307.6L297.8 308.1L298.4 308.5L299.0 309.2L299.6 310.1L300.2 310.9L300.8 311.2L301.4 310.2L302.0 308.8L302.6 308.0L303.2 307.5L303.8 306.9L304.4 306.2L305.0 305.5L305.6 306.0L306.2 307.5L306.8 308.9L307.4 310.0L308.0 311.2L308.6 312.6L309.2 314.6L309.8 313.9L310.4 312.4L311.0 310.5L311.6 309.1L312.2 307.6L312.8 306.4L313.4 306.0L314.0 306.5L314.6 306.8L315.2 307.1L315.8 307.5L316.4 308.2L317.0 308.1L317.6 308.4L318.2 308.5L318.8 309.6L319.4 309.8L320.0 310.1L320.6 310.4L321.2 310.9L321.8 310.8L322.4 310.9L323.0 309.9L323.6 309.5L324.2 308.6L324.8 308.4L325.4 309.1L326.0 310.8L326.6 312.1L327.2 313.5L327.8 314.2L328.4 312.5L329.0 310.5L329.6 308.4L330.2 305.8L330.8 305.7L331.4 307.6L332.0 309.2L332.6 311.1L333.2 312.6L333.8 314.1L334.4 314.8L335.0 314.5L335.6 315.3L336.2 315.8L336.8 316.2L337.4 316.4L338.0 316.7L338.6 317.0L339.2 317.0L339.8 317.5L340.4 318.3L341.0 320.0L341.6 321.1L342.2 322.4L342.8 323.5L343.4 323.1L344.0 321.3L344.6 320.0L345.2 320.1L345.8 320.8L346.4 321.3L347.0 321.9L347.6 322.6L348.2 322.7L348.8 323.8L349.4 324.2L350.0 323.6L350.6 321.6L351.2 320.6L351.8 322.7L352.4 324.7L353.0 326.8L353.6 326.7L354.2 323.0L354.8 319.0L355.4 321.1L356.0 323.4L356.6 325.7L357.2 328.2L357.8 328.3L358.4 327.2L359.0 326.3L359.6 326.0L360.2 325.3L360.8 324.8L361.4 326.3L362.0 328.3L362.6 329.6L363.2 331.5L363.8 333.5L364.4 332.6L365.0 331.4L365.6 330.2L366.2 328.9L366.8 328.2L367.4 327.8L368.0 329.4L368.6 329.8L369.2 331.5L369.8 332.0L370.4 329.9L371.0 327.7L371.6 325.7L372.2 323.3L372.8 321.8L373.4 323.8L374.0 326.4L374.6 328.2L375.2 330.8L375.8 332.8L376.4 335.2L377.0 333.5L377.6 331.5L378.2 329.7L378.8 328.1L379.4 328.2L380.0 328.9L380.6 329.4L381.2 330.0L381.8 331.1L382.4 331.8L383.0 330.8L383.6 329.4L384.2 328.2L384.8 326.7L385.4 327.2L386.0 328.8L386.6 330.2L387.2 332.3L387.8 333.6L388.4 335.2L389.0 334.0L389.6 333.1L390.2 331.6L390.8 330.4L391.4 328.7L392.0 327.8L392.6 328.5L393.2 331.0L393.8 333.3L394.4 335.2L395.0 337.0L395.6 336.7L396.2 335.2L396.8 333.5L397.4 335.1L398.0 337.3L398.6 338.6L399.2 337.2L399.8 335.0L400.4 333.8L401.0 332.3L401.6 333.9L402.2 335.4L402.8 337.1L403.4 338.9L404.0 340.6L404.6 342.4L405.2 344.3L405.8 344.0L406.4 343.8L407.0 342.9L407.6 342.8L408.2 342.2L408.8 342.3L409.4 343.8L410.0 345.4L410.6 346.9L411.2 349.1L411.8 350.3L412.4 349.7L413.0 348.3L413.6 346.9L414.2 344.9L414.8 343.9L415.4 343.0L416.0 342.7L416.6 342.3L417.2 341.4L417.8 341.2L418.4 340.8L419.0 340.8L419.6 341.9L420.2 342.8L420.8 343.8L421.4 344.0L422.0 344.9L422.6 346.6L423.2 347.1L423.8 348.2L424.4 348.9L425.0 349.1L425.6 347.6L426.2 345.0L426.8 342.8L427.4 340.2L428.0 343.2L428.6 346.0L429.2 348.4L429.8 351.3L430.4 353.3L431.0 352.1L431.6 350.7L432.2 349.6L432.8 348.4L433.4 346.9L434.0 345.8L434.6 343.4L435.2 340.9L435.8 338.3L436.4 336.3L437.0 333.6L437.6 333.3L438.2 335.0L438.8 337.1L439.4 337.9L440.0 338.6L440.6 332.6L441.2 326.6L441.8 320.7L442.4 317.3L443.0 315.1L443.6 312.7L444.2 311.0L444.8 308.6L445.4 306.8L446.0 304.0L446.6 302.5L447.2 300.8L447.8 299.1L448.4 297.4L449.0 295.9L449.6 294.0L450.2 293.2L450.8 292.2L451.4 289.1L452.0 285.5L452.6 283.7L453.2 283.4L453.8 283.2L454.4 282.7L455.0 280.3L455.6 277.5L456.2 274.3L456.8 271.4L457.4 268.5L458.0 265.6L458.6 261.6L459.2 258.0L459.8 256.5L460.4 255.6L461.0 254.7L461.6 253.4L462.2 252.8L462.8 251.5L463.4 251.0L464.0 249.8L464.6 248.6L465.2 246.6L465.8 244.8L466.4 243.2L467.0 241.5L467.6 238.9L468.2 236.3L468.8 233.6L469.4 231.3L470.0 230.1L470.6 228.9L471.2 228.0L471.8 227.1L472.4 226.1L473.0 224.8L473.6 223.8L474.2 223.9L474.8 224.8L475.4 225.4L476.0 226.1L476.6 226.5L477.2 226.1L477.8 226.1L478.4 225.9L479.0 227.3L479.6 229.5L480.2 231.6L480.8 233.8L481.4 232.8L482.0 232.2L482.6 231.5L483.2 232.7L483.8 233.9L484.4 235.3L485.0 236.0L485.6 233.3L486.2 230.6L486.8 227.8L487.4 225.8L488.0 225.1L488.6 224.4L489.2 223.8L489.8 223.4L490.4 223.2L491.0 222.7L491.6 221.8L492.2 220.9L492.8 220.0L493.4 219.4L494.0 218.8L494.6 219.8L495.2 221.1L495.8 222.0L496.4 223.3L497.0 221.5L497.6 219.6L498.2 217.6L498.8 216.6L499.4 215.7L500.0 215.1L500.6 214.4L501.2 213.7L501.8 213.6L502.4 214.6L503.0 215.5L503.6 216.4L504.2 215.7L504.8 215.3L505.4 214.7L506.0 214.1L506.6 213.4L507.2 212.8L507.8 212.5L508.4 212.9L509.0 214.4L509.6 215.7L510.2 216.8L510.8 218.5L511.4 218.0L512.0 217.0L512.6 215.9L513.2 215.0L513.8 215.1L514.4 216.4L515.0 217.4L515.6 218.3L516.2 219.2L516.8 220.3L517.4 219.7L518.0 218.9L518.6 218.1L519.2 218.1L519.8 219.4L520.4 220.4L521.0 221.7L521.6 223.1L522.2 224.0L522.8 223.5L523.4 222.9L524.0 222.6L524.6 223.6L525.2 224.8L525.8 226.0L526.4 226.2L527.0 225.6L527.6 224.7L528.2 223.9L528.8 223.1L529.4 224.3L530.0 225.2L530.6 226.0L531.2 226.8L531.8 226.6L532.4 226.2L533.0 225.9L533.6 227.4L534.2 229.1L534.8 230.5L535.4 231.7L536.0 232.2L536.6 232.7L537.2 233.5L537.8 234.2L538.4 235.2L539.0 235.9L539.6 235.8L540.2 234.9L540.8 234.2L541.4 234.3L542.0 234.7L542.6 235.1L543.2 235.5L543.8 235.0L544.4 234.2L545.0 233.1L545.6 234.3L546.2 236.2L546.8 238.1L547.4 239.5L548.0 241.2L548.6 240.7L549.2 239.1L549.8 237.2L550.4 235.3L551.0 233.3L551.6 233.5L552.2 234.6L552.8 235.8L553.4 236.8L554.0 237.6L554.6 238.1L555.2 238.5L555.8 238.9L556.4 239.3L557.0 239.3L557.6 238.9L558.2 238.6L558.8 238.5L559.4 238.5L560.0 237.9L560.6 237.5L561.2 236.9L561.8 236.5L562.4 237.2L563.0 238.2L563.6 239.5L564.2 240.3L564.8 240.2L565.4 238.8L566.0 237.8L566.6 236.7L567.2 235.7L567.8 234.4L568.4 233.1L569.0 232.9L569.6 233.1L570.2 233.6L570.8 233.8L571.4 234.3L572.0 234.6L572.6 235.6L573.2 237.0L573.8 238.2L574.4 239.5L575.0 240.8L575.6 242.1L576.2 242.7L576.8 243.4L577.4 244.0L578.0 244.8L578.6 245.1L579.2 245.6L579.8 245.9L580.4 246.3L581.0 245.3L581.6 244.0L582.2 243.0L582.8 241.4L583.4 241.2L584.0 242.1L584.6 243.6L585.2 244.7L585.8 245.8L586.4 245.2L587.0 244.8L587.6 244.2L588.2 243.1L588.8 242.5L589.4 242.4L590.0 243.4L590.6 244.1L591.2 244.9L591.8 245.7L592.4 246.4L593.0 247.0L593.6 247.4L594.2 247.8L594.8 247.2L595.4 247.0L596.0 246.6L596.6 246.1L597.2 245.2L597.8 244.8L598.4 244.2L599.0 243.7L599.6 243.0L600.2 242.4L600.8 242.2L601.4 241.9L602.0 241.7L602.6 241.0L603.2 240.4L603.8 239.9L604.4 240.2L605.0 241.7L605.6 242.9L606.2 244.3L606.8 245.6L607.4 246.3L608.0 245.2L608.6 243.9L609.2 242.9L609.8 242.0L610.4 241.4L611.0 240.7L611.6 239.9L612.2 239.9L612.8 241.2L613.4 242.5L614.0 243.4L614.6 244.3L615.2 245.6L615.8 245.9L616.4 245.8L617.0 245.9L617.6 247.4L618.2 248.9L618.8 250.4L619.4 251.6L620.0 252.2L620.6 251.4L621.2 250.9L621.8 250.0L622.4 249.3L623.0 248.5L623.6 249.9L624.2 251.8L624.8 253.9L625.4 255.5L626.0 256.9L626.6 258.1L627.2 259.1L627.8 260.5L628.4 261.4L629.0 262.6L629.6 263.7L630.2 265.3L630.8 263.7L631.4 262.1L632.0 260.5L632.6 260.1L633.2 259.8L633.8 259.3L634.4 259.5L635.0 259.5L635.6 259.7L636.2 259.9L636.8 260.0L637.4 259.8L638.0 259.4L638.6 259.0L639.2 258.7L639.8 258.5L640.4 258.2L641.0 259.8L641.6 262.0L642.2 264.6L642.8 267.2L643.4 269.9L644.0 269.4L644.6 267.9L645.2 266.5L645.8 264.8L646.4 265.2L647.0 266.0L647.6 267.2L648.2 268.1L648.8 268.8L649.4 268.9L650.0 268.0L650.6 267.3L651.2 266.9L651.8 267.0L652.4 266.6L653.0 266.0L653.6 265.6L654.2 267.3L654.8 268.9L655.4 270.6L656.0 272.3L656.6 273.0L657.2 273.1L657.8 273.5L658.4 273.8L659.0 274.2L659.6 273.0L660.2 272.1L660.8 272.8L661.4 273.7L662.0 274.8L662.6 275.8L663.2 276.2L663.8 276.6L664.4 276.6L665.0 277.0L665.6 277.1L666.2 277.3L666.8 276.4L667.4 275.6L668.0 275.0L668.6 274.3L669.2 273.8L669.8 273.1L670.4 274.0L671.0 274.7L671.6 275.9L672.2 277.2L672.8 278.7L673.4 279.7L674.0 280.3L674.6 280.9L675.2 281.8L675.8 281.5L676.4 280.4L677.0 279.4L677.6 278.4L678.2 277.9L678.8 277.3L679.4 277.2L680.0 276.4L680.6 276.4L681.2 276.0L681.8 277.3L682.4 278.3L683.0 279.5L683.6 280.7L684.2 281.9L684.8 282.7L685.4 283.5L686.0 282.8L686.6 282.2L687.2 281.7L687.8 280.6L688.4 281.0L689.0 282.0L689.6 284.0L690.2 285.4L690.8 287.0L691.4 287.7L692.0 287.4L692.6 286.0L693.2 284.9L693.8 283.7L694.4 282.8L695.0 282.7L695.6 284.0L696.2 285.2L696.8 286.2L697.4 287.4L698.0 287.8L698.6 287.0L699.2 285.9L699.8 285.1L700.4 287.2L701.0 289.6L701.6 288.9L702.2 287.4L702.8 285.9L703.4 284.0L704.0 283.6L704.6 284.8L705.2 285.9L705.8 287.3L706.4 288.3L707.0 289.3L707.6 290.0L708.2 290.5L708.8 291.0L709.4 291.3L710.0 292.0L710.6 293.2L711.2 293.5L711.8 291.3L712.4 289.0L713.0 290.3L713.6 291.0L714.2 290.9L714.8 289.1L715.4 287.1L716.0 285.6L716.6 288.0L717.2 290.8L717.8 293.5L718.4 296.8L719.0 300.0L719.6 300.3L720.2 298.0L720.8 295.6L721.4 293.5L722.0 291.5L722.6 291.2L723.2 290.6L723.8 290.1L724.4 289.6L725.0 289.2L725.6 289.7L726.2 291.6L726.8 292.6L727.4 292.0L728.0 290.9L728.6 290.3L729.2 289.7L729.8 291.7L730.4 293.0L731.0 294.9L731.6 295.7L732.2 297.1L732.8 298.4L733.4 299.0L734.0 299.5L734.6 300.1L735.2 298.4L735.8 296.7L736.4 294.7L737.0 293.7L737.6 293.4L738.2 293.7L738.8 293.1L739.4 293.1L740.0 293.0L740.6 293.5L741.2 294.8L741.8 296.2L742.4 297.7L743.0 299.4L743.6 300.7L744.2 301.9L744.8 303.1L745.4 304.2L746.0 305.2L746.6 306.1L747.2 306.2L747.8 306.6L748.4 306.5L749.0 306.6L749.6 306.1L750.2 305.7L750.8 305.4L751.4 305.4L752.0 305.7L752.6 305.2L753.2 305.0L753.8 304.7L754.4 304.9L755.0 304.1L755.6 303.4L756.2 303.1L756.8 302.8L757.4 302.7L758.0 303.6L758.6 304.6L759.2 306.1L759.8 307.9L760.4 307.7L761.0 307.5L761.6 307.0L762.2 307.0L762.8 307.1L763.4 307.2L764.0 307.3L764.6 307.2L765.2 307.6L765.8 308.1L766.4 308.7L767.0 308.6L767.6 308.8L768.2 309.2L768.8 309.6L769.4 309.9L770.0 310.2L770.6 310.3L771.2 310.2L771.8 310.2L772.4 310.4L773.0 311.7L773.6 312.6L774.2 312.6L774.8 312.8L775.4 312.8L776.0 312.4L776.6 311.8L777.2 311.8L777.8 311.2L778.4 310.4L779.0 309.1L779.6 308.2L780.2 306.7L780.8 305.7L781.4 307.2L782.0 309.7L782.6 311.8L783.2 313.2L783.8 313.6L784.4 313.8L785.0 314.6L785.6 315.0L786.2 314.9L786.8 313.8L787.4 313.0L788.0 312.5L788.6 313.7L789.2 315.3L789.8 317.7L790.4 318.1L791.0 317.4L791.6 315.6L792.2 314.2L792.8 315.3L793.4 316.8L794.0 318.9L794.6 320.4L795.2 322.3L795.8 323.0L796.4 324.1L797.0 325.2L797.6 326.8L798.2 328.3L798.8 325.3L799.4 322.3L800.0 319.3L800.6 316.6L801.2 313.4L801.8 310.0L802.4 311.3L803.0 314.1L803.6 316.7L804.2 319.2L804.8 320.5L805.4 321.5L806.0 322.4L806.6 323.1L807.2 321.8L807.8 320.4L808.4 319.3L809.0 318.9L809.6 318.8L810.2 318.4L810.8 317.9L811.4 317.8L812.0 317.9L812.6 320.0L813.2 321.4L813.8 323.6L814.4 325.4L815.0 327.6L815.6 328.2L816.2 326.8L816.8 325.7L817.4 324.2L818.0 322.8L818.6 323.4L819.2 325.1L819.8 327.0L820.4 328.0L821.0 329.7L821.6 329.0L822.2 327.6L822.8 325.8L823.4 324.2L824.0 323.9L824.6 325.2L825.2 326.3L825.8 326.7L826.4 326.9L827.0 326.8L827.6 326.9L828.2 328.1L828.8 329.3L829.4 330.8L830.0 332.4L830.6 332.8L831.2 332.6L831.8 332.2L832.4 332.2L833.0 332.4L833.6 332.0L834.2 331.8L834.8 331.2L835.4 329.1L836.0 326.7L836.6 323.7L837.2 324.3L837.8 325.7L838.4 327.4L839.0 328.8L839.6 331.3L840.2 333.1L840.8 333.6L841.4 332.9L842.0 332.9L842.6 333.4L843.2 332.7L843.8 332.0L844.4 331.5L845.0 332.3L845.6 333.1L846.2 333.8L846.8 332.8L847.4 330.9L848.0 329.1L848.6 328.1L849.2 326.8L849.8 325.2L850.4 324.7L851.0 325.3L851.6 326.3L852.2 327.7L852.8 328.1L853.4 328.9L854.0 329.0L854.6 330.5L855.2 331.5L855.8 333.3L856.4 334.7L857.0 336.3L857.6 335.0L858.2 333.1L858.8 331.3L859.4 329.2L860.0 329.2L860.6 331.3L861.2 333.2L861.8 335.1L862.4 334.2L863.0 333.1L863.6 332.2L864.2 333.1L864.8 335.0L865.4 336.8L866.0 338.9L866.6 338.1L867.2 337.0L867.8 336.2L868.4 336.0L869.0 337.6L869.6 339.2L870.2 339.0L870.8 338.8L871.4 338.2L872.0 338.1L872.6 337.6L873.2 337.0L873.8 336.3L874.4 338.4L875.0 341.0L875.6 342.9L876.2 345.1L876.8 347.4L877.4 347.6L878.0 347.9L878.6 347.3L879.2 346.5L879.8 344.5L880.4 342.5L881.0 344.3L881.6 346.6L882.2 349.3L882.8 351.6L883.4 353.6L884.0 355.9L884.6 355.6L885.2 353.6L885.8 351.9L886.4 350.2L887.0 348.7L887.6 347.2L888.2 344.2L888.8 346.1L889.4 347.3L890.0 349.1L890.6 350.3L891.2 351.2L891.8 352.8L892.4 353.6L893.0 353.9L893.6 354.1L894.2 352.9L894.8 351.6L895.4 350.6L896.0 349.2L896.6 347.9L897.2 348.2L897.8 349.4L898.4 350.9L899.0 352.2L899.6 352.7L900.2 351.4L900.8 349.7L901.4 348.9L902.0 348.4L902.6 347.7L903.2 347.3L903.8 348.6L904.4 350.7L905.0 352.4L905.6 353.9L906.2 354.1L906.8 354.2L907.4 354.3L908.0 354.2L908.6 353.6L909.2 352.1L909.8 350.2L910.4 349.3L911.0 348.0L911.6 346.5L912.2 346.4L912.8 348.5L913.4 351.6L914.0 353.9L914.6 356.5L915.2 358.4L915.8 356.7L916.4 354.6L917.0 353.4L917.6 354.3L918.2 354.6L918.8 355.5L919.4 356.0L920.0 356.6L920.6 357.3L921.2 357.6L921.8 356.1L922.4 354.1L923.0 352.7L923.6 351.9L924.2 350.2L924.8 350.4L925.4 353.2L926.0 356.4L926.6 358.7L927.2 358.6L927.8 358.5L928.4 358.6L929.0 359.0L929.6 359.6L930.2 359.8L930.8 359.4L931.4 360.0L932.0 360.6L932.6 361.1L933.2 361.3L933.8 361.9L934.4 362.7L935.0 361.8L935.6 359.4L936.2 356.5L936.8 353.6L937.4 352.7L938.0 355.7L938.6 358.6L939.2 359.3L939.8 356.2L940.4 353.2L941.0 351.2L941.6 351.4L942.2 353.3L942.8 355.2L943.4 356.7L944.0 357.6L944.6 356.8L945.2 356.9L945.8 356.4L946.4 356.4L947.0 356.2L947.6 356.8L948.2 358.0L948.8 359.3L949.4 362.4L950.0 365.2L950.6 368.9L951.2 370.2L951.8 367.4L952.4 364.2L953.0 361.3L953.6 359.8L954.2 359.6L954.8 359.0L955.4 360.1L956.0 361.4L956.6 363.9L957.2 365.6L957.8 368.6L958.4 370.3L959.0 372.7L959.6 374.3L960.2 372.7L960.8 371.0L961.4 369.1L962.0 368.5L962.6 367.7L963.2 367.4L963.8 367.0L964.4 367.0L965.0 366.7L965.6 364.6L966.2 363.3L966.8 361.4L967.4 361.3L968.0 363.4L968.6 365.7L969.2 368.0L969.8 370.6L970.4 373.2L971.0 371.7L971.6 370.9L972.2 369.7L972.8 368.8L973.4 368.6L974.0 367.9L974.6 366.7L975.2 365.6L975.8 364.2L976.4 365.1L977.0 367.3L977.6 370.4L978.2 368.8L978.8 366.0L979.4 363.1L980.0 359.5L980.6 359.3L981.2 362.2L981.8 364.3L982.4 366.3L983.0 367.8L983.6 366.8L984.2 366.2L984.8 367.0L985.4 368.9L986.0 370.2L986.6 370.9L987.2 372.0L987.8 373.3L988.4 374.9L989.0 377.0L989.6 378.9L990.2 377.6L990.8 371.1L991.4 365.2L992.0 359.0L992.6 353.3L993.2 357.3L993.8 361.7L994.4 365.8L995.0 370.3L995.6 372.6L996.2 374.2" stroke="#00f" stroke-width="1.6"/>
</g>
<circle cx="443.4" cy="313.4" r="4.65" fill="#f00" stroke="#000" stroke-width="0.6"/>
<path d="M500.5 200.1L506.35 210.1L500.5 220.1L494.65 210.1Z" fill="#f00" stroke="#000" stroke-width="0.6"/>
<path d="M152.5 731.5 v-6.2M152.5 81.5 v6.2M269.5 731.5 v-6.2M269.5 81.5 v6.2M387.5 731.5 v-6.2M387.5 81.5 v6.2M504.5 731.5 v-6.2M504.5 81.5 v6.2M622.5 731.5 v-6.2M622.5 81.5 v6.2M739.5 731.5 v-6.2M739.5 81.5 v6.2M856.5 731.5 v-6.2M856.5 81.5 v6.2M974.5 731.5 v-6.2M974.5 81.5 v6.2M1091.5 731.5 v-6.2M1091.5 81.5 v6.2M152.5 81.5 h6.2M1091.5 81.5 h-6.2M152.5 243.5 h6.2M1091.5 243.5 h-6.2M152.5 406.5 h6.2M1091.5 406.5 h-6.2M152.5 568.5 h6.2M1091.5 568.5 h-6.2M152.5 731.5 h6.2M1091.5 731.5 h-6.2" stroke="#000" stroke-width="0.7" fill="none"/>
<path d="M152.5 194.5 h3.3M1091.5 194.5 h-3.3M152.5 166.5 h3.3M1091.5 166.5 h-3.3M152.5 145.5 h3.3M1091.5 145.5 h-3.3M152.5 130.5 h3.3M1091.5 130.5 h-3.3M152.5 117.5 h3.3M1091.5 117.5 h-3.3M152.5 106.5 h3.3M1091.5 106.5 h-3.3M152.5 96.5 h3.3M1091.5 96.5 h-3.3M152.5 88.5 h3.3M1091.5 88.5 h-3.3M152.5 357.5 h3.3M1091.5 357.5 h-3.3M152.5 328.5 h3.3M1091.5 328.5 h-3.3M152.5 308.5 h3.3M1091.5 308.5 h-3.3M152.5 292.5 h3.3M1091.5 292.5 h-3.3M152.5 279.5 h3.3M1091.5 279.5 h-3.3M152.5 268.5 h3.3M1091.5 268.5 h-3.3M152.5 259.5 h3.3M1091.5 259.5 h-3.3M152.5 251.5 h3.3M1091.5 251.5 h-3.3M152.5 519.5 h3.3M1091.5 519.5 h-3.3M152.5 490.5 h3.3M1091.5 490.5 h-3.3M152.5 470.5 h3.3M1091.5 470.5 h-3.3M152.5 454.5 h3.3M1091.5 454.5 h-3.3M152.5 442.5 h3.3M1091.5 442.5 h-3.3M152.5 431.5 h3.3M1091.5 431.5 h-3.3M152.5 421.5 h3.3M1091.5 421.5 h-3.3M152.5 413.5 h3.3M1091.5 413.5 h-3.3M152.5 681.5 h3.3M1091.5 681.5 h-3.3M152.5 653.5 h3.3M1091.5 653.5 h-3.3M152.5 633.5 h3.3M1091.5 633.5 h-3.3M152.5 617.5 h3.3M1091.5 617.5 h-3.3M152.5 604.5 h3.3M1091.5 604.5 h-3.3M152.5 593.5 h3.3M1091.5 593.5 h-3.3M152.5 584.5 h3.3M1091.5 584.5 h-3.3M152.5 575.5 h3.3M1091.5 575.5 h-3.3" stroke="#000" stroke-width="0.7" fill="none"/>
<rect x="152.5" y="81.5" width="939.0" height="650.0" fill="none" stroke="#000" stroke-width="1.15"/>
<g fill="#000" font-family="'DejaVu Sans','Liberation Sans',sans-serif">
<text x="449.9" y="73.8" letter-spacing="0.022" font-size="20">20110906 Wind/EPACT 19-28 MeV</text>
<text x="427.07" y="775.4" font-size="20.8">Hours after 06-09-2011 00:00:45.338</text>
<text transform="translate(94.55 0) rotate(-90)"><tspan x="-561.20" y="0" font-size="20.83">Intensity (cm</tspan><tspan x="-424.20" y="-6.60" font-size="14.2" font-family="'DejaVu Sans Light','DejaVu Sans',sans-serif">−</tspan><tspan x="-413.10" y="-7.45" font-size="15.4" font-family="'Liberation Serif','DejaVu Serif',serif">2</tspan><tspan x="-402.10" y="0" font-size="20.83">s</tspan><tspan x="-391.40" y="-6.60" font-size="14.2" font-family="'DejaVu Sans Light','DejaVu Sans',sans-serif">−</tspan><tspan x="-380.20" y="-7.45" font-size="15.4" font-family="'Liberation Serif','DejaVu Serif',serif">1</tspan><tspan x="-369.10" y="0" font-size="20.83">sr</tspan><tspan x="-350.30" y="-6.60" font-size="14.2" font-family="'DejaVu Sans Light','DejaVu Sans',sans-serif">−</tspan><tspan x="-338.20" y="-7.45" font-size="15.4" font-family="'Liberation Serif','DejaVu Serif',serif">1</tspan><tspan x="-328.04" y="0" font-size="20.83">MeV</tspan><tspan x="-283.40" y="-6.60" font-size="14.2" font-family="'DejaVu Sans Light','DejaVu Sans',sans-serif">−</tspan><tspan x="-271.30" y="-7.45" font-size="15.4" font-family="'Liberation Serif','DejaVu Serif',serif">1</tspan><tspan x="-259.67" y="0" font-size="20.83">)</tspan></text>
<text x="151.8" y="749.1" text-anchor="middle" font-size="16.67">0</text>
<text x="269.2" y="749.1" text-anchor="middle" font-size="16.67">10</text>
<text x="386.6" y="749.1" text-anchor="middle" font-size="16.67">20</text>
<text x="504.0" y="749.1" text-anchor="middle" font-size="16.67">30</text>
<text x="621.5" y="749.1" text-anchor="middle" font-size="16.67">40</text>
<text x="738.9" y="749.1" text-anchor="middle" font-size="16.67">50</text>
<text x="856.3" y="749.1" text-anchor="middle" font-size="16.67">60</text>
<text x="973.7" y="749.1" text-anchor="middle" font-size="16.67">70</text>
<text x="1091.1" y="749.1" text-anchor="middle" font-size="16.67">80</text>
<text x="117.03" y="89.1" font-size="16.67">10<tspan dy="-9.1" font-size="11.67">0</tspan></text>
<text x="112.82" y="251.6" font-size="16.67">10<tspan dy="-9.1" font-size="11.67">-1</tspan></text>
<text x="112.82" y="414.1" font-size="16.67">10<tspan dy="-9.1" font-size="11.67">-2</tspan></text>
<text x="112.82" y="576.6" font-size="16.67">10<tspan dy="-9.1" font-size="11.67">-3</tspan></text>
<text x="112.82" y="739.1" font-size="16.67">10<tspan dy="-9.1" font-size="11.67">-4</tspan></text>
</g>
</svg>
</body></html>
